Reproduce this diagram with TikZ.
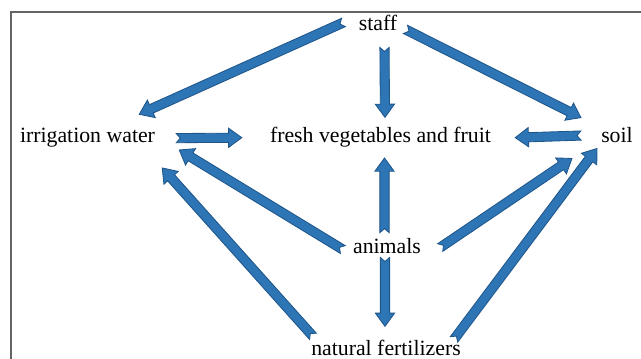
\documentclass[tikz,border=0pt]{standalone}
\usepackage{fontspec}
\setmainfont{Liberation Serif}
\newfontfamily\timesfont{Liberation Serif}
\usetikzlibrary{calc}

\definecolor{arrowblue}{RGB}{46,117,182}
\definecolor{arrowedge}{RGB}{31,86,138}
\definecolor{framegray}{RGB}{100,100,100}

% notched block arrow from tail #1 to head #2
\newcommand{\fatarrow}[2]{%
  \coordinate (t) at (#1);
  \coordinate (h) at (#2);
  \coordinate (b) at ($(h)!0.33cm!(t)$);
  \draw[blockarrow] ($(t)!0.1cm!(h)$) -- ($(t)!0.115cm!90:(h)$)
    -- ($(b)!0.115cm!90:(h)$) -- ($(b)!0.24cm!90:(h)$) -- (h)
    -- ($(b)!0.24cm!-90:(h)$) -- ($(b)!0.115cm!-90:(h)$)
    -- ($(t)!0.115cm!-90:(h)$) -- cycle;
}

\begin{document}
\begin{tikzpicture}[
    x=0.025cm, y=-0.025cm,
    factor/.style={
        inner sep=0pt,
        anchor=base,
        font=\timesfont\fontsize{15.5}{18}\selectfont
    },
    blockarrow/.style={
        fill=arrowblue,
        draw=arrowedge,
        line width=0.6pt,
        line join=miter
    }
]
\useasboundingbox (0,0) rectangle (641,359);

% Frame
\draw[framegray, line width=0.9pt] (11,359) -- (11,12) -- (641,12);

% Nodes
\node (staff) [factor] at (378,31) {staff};
\node (irr) [factor] at (87.5,143) {irrigation water};
\node (fresh) [factor] at (380.5,143) {fresh vegetables and fruit};
\node (soil) [factor] at (617,143) {soil};
\node (animals) [factor] at (387,254) {animals};
\node (fert) [factor] at (386,356) {natural fertilizers};

% Arrows
\fatarrow{$(staff.west)+(-15,-1)$}{$(irr.north east)+(-16,-14)$}
\fatarrow{$(staff.south)+(6.5,16)$}{$(fresh.north)+(4.5,-10)$}
\fatarrow{$(staff.east)+(8,6)$}{$(soil.north west)+(-20,-10)$}
\fatarrow{$(irr.east)+(21,0)$}{$(fresh.west)+(-28,0)$}
\fatarrow{$(soil.west)+(-20,0)$}{$(fresh.east)+(24,0)$}
\fatarrow{$(animals.north)+(-2.5,-6)$}{$(fresh.south)+(4,10)$}
\fatarrow{$(animals.west)+(-10,3)$}{$(irr.south east)+(24,2)$}
\fatarrow{$(animals.east)+(19,1)$}{$(soil.south west)+(-29,15)$}
\fatarrow{$(animals.south)+(-2,3)$}{$(fert.north)+(-1,-14)$}
\fatarrow{$(fert.north west)+(2,-4)$}{$(irr.south east)+(7,20)$}
\fatarrow{$(fert.north east)+(-7,-1)$}{$(soil.south)+(-20,5)$}

\end{tikzpicture}
\end{document}
